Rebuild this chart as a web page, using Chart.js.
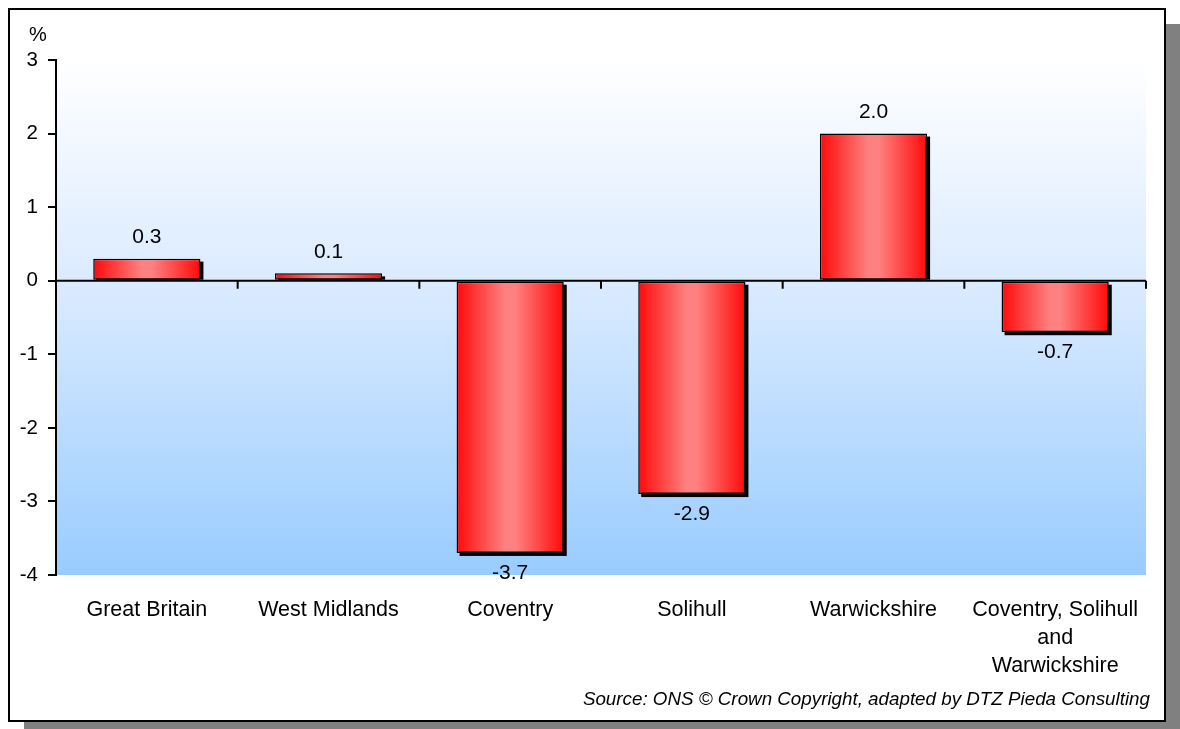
<!DOCTYPE html>
<html>
<head>
<meta charset="utf-8">
<script src="https://cdn.jsdelivr.net/npm/chart.js@4.4.1/dist/chart.umd.min.js"></script>
<style>
  html, body { margin: 0; padding: 0; background: #ffffff; }
  #c { display: block; }
</style>
</head>
<body>
<canvas id="c" width="1180" height="729"></canvas>
<script>
const categories = [
  'Great Britain',
  'West Midlands',
  'Coventry',
  'Solihull',
  'Warwickshire',
  ['Coventry, Solihull', 'and', 'Warwickshire']
];
const changeValues = [0.3, 0.1, -3.7, -2.9, 2.0, -0.7];
const yTicks = [3, 2, 1, 0, -1, -2, -3, -4];
const unitLabel = '%';
const sourceText = 'Source: ONS \u00A9 Crown Copyright, adapted by DTZ Pieda Consulting';

const FONT = '"Liberation Sans", Arial, sans-serif';

const framePlugin = {
  id: 'frame',
  beforeDraw(chart) {
    const ctx = chart.ctx;
    const W = chart.width, H = chart.height;
    ctx.save();
    ctx.fillStyle = '#ffffff';
    ctx.fillRect(0, 0, W, H);
    ctx.fillStyle = '#808080';
    ctx.fillRect(24, 24, W - 24, H - 24);
    ctx.fillStyle = '#ffffff';
    ctx.fillRect(9, 9, 1156, 712);
    ctx.strokeStyle = '#000000';
    ctx.lineWidth = 2;
    ctx.strokeRect(9, 9, 1156, 712);
    const a = chart.chartArea;
    const g = ctx.createLinearGradient(0, a.top, 0, a.bottom);
    g.addColorStop(0, '#ffffff');
    g.addColorStop(0.45, '#d9eaff');
    g.addColorStop(1, '#99ccff');
    ctx.fillStyle = g;
    ctx.fillRect(a.left, a.top, a.right - a.left, a.bottom - a.top);
    ctx.restore();
  }
};

const shadowPlugin = {
  id: 'barShadow',
  beforeDatasetsDraw(chart) {
    const ctx = chart.ctx;
    const meta = chart.getDatasetMeta(0);
    ctx.save();
    ctx.fillStyle = '#000000';
    meta.data.forEach(el => {
      const left = el.x - el.width / 2;
      const top = Math.min(el.y, el.base);
      const bottom = Math.max(el.y, el.base);
      if (el.y < el.base) {
        ctx.fillRect(left + 3, top + 3, el.width, bottom - top - 3);
      } else {
        ctx.fillRect(left + 3, top + 3, el.width, bottom - top);
      }
    });
    ctx.restore();
  }
};

const axisPlugin = {
  id: 'zeroAxis',
  afterDatasetsDraw(chart) {
    const ctx = chart.ctx;
    const a = chart.chartArea;
    const y0 = chart.scales.y.getPixelForValue(0);
    ctx.save();
    ctx.strokeStyle = '#000000';
    ctx.lineWidth = 2;
    ctx.beginPath();
    ctx.moveTo(a.left, y0);
    ctx.lineTo(a.right, y0);
    const n = categories.length;
    const cw = (a.right - a.left) / n;
    for (let k = 1; k <= n; k++) {
      const x = a.left + k * cw;
      ctx.moveTo(x, y0);
      ctx.lineTo(x, y0 + 8);
    }
    ctx.stroke();

    const meta = chart.getDatasetMeta(0);
    ctx.fillStyle = '#000000';
    ctx.font = '21px ' + FONT;
    ctx.textAlign = 'center';
    ctx.textBaseline = 'middle';
    meta.data.forEach((el, i) => {
      const v = changeValues[i];
      const ty = v >= 0 ? el.y - 21 : el.y + 20;
      ctx.fillText(v.toFixed(1), el.x, ty);
    });

    ctx.font = '20px ' + FONT;
    ctx.fillText(unitLabel, 38, 35);

    ctx.font = 'italic 18.8px ' + FONT;
    ctx.textAlign = 'right';
    ctx.fillText(sourceText, 1150, 700);
    ctx.restore();
  }
};

function barGradient(context) {
  const chart = context.chart;
  const a = chart.chartArea;
  if (!a || !chart.scales.x) return '#ff4040';
  const xs = chart.scales.x;
  const cx = xs.getPixelForValue(context.dataIndex);
  const cw = (a.right - a.left) / categories.length;
  const w = cw * 0.59;
  const g = chart.ctx.createLinearGradient(cx - w / 2, 0, cx + w / 2, 0);
  g.addColorStop(0, '#ff0a0a');
  g.addColorStop(0.45, '#ff8080');
  g.addColorStop(0.55, '#ff8080');
  g.addColorStop(1, '#ff0a0a');
  return g;
}

new Chart(document.getElementById('c'), {
  type: 'bar',
  data: {
    labels: categories,
    datasets: [{
      data: changeValues,
      backgroundColor: barGradient,
      borderColor: '#000000',
      borderWidth: 1.5,
      borderSkipped: false,
      barPercentage: 0.59,
      categoryPercentage: 1.0
    }]
  },
  options: {
    responsive: false,
    animation: false,
    devicePixelRatio: 1,
    layout: { padding: { left: 0, top: 60, right: 34, bottom: 0 } },
    plugins: {
      legend: { display: false },
      tooltip: { enabled: false },
      title: { display: false }
    },
    scales: {
      x: {
        grid: { display: false, drawTicks: false },
        border: { display: false },
        ticks: {
          color: '#000000',
          font: { family: FONT, size: 21.5, lineHeight: '28px' },
          padding: 21,
          maxRotation: 0,
          autoSkip: false
        },
        afterFit(scale) { scale.height = 154; }
      },
      y: {
        min: -4,
        max: 3,
        afterBuildTicks(scale) { scale.ticks = yTicks.map(v => ({ value: v })); },
        grid: {
          drawOnChartArea: false,
          drawTicks: true,
          tickLength: 8,
          color: '#000000',
          lineWidth: 2
        },
        border: { display: true, color: '#000000', width: 2 },
        ticks: {
          color: '#000000',
          font: { family: FONT, size: 20.5 },
          padding: 10,
          callback: v => String(v)
        },
        afterFit(scale) { scale.width = 56; }
      }
    }
  },
  plugins: [framePlugin, shadowPlugin, axisPlugin]
});
</script>
</body>
</html>
